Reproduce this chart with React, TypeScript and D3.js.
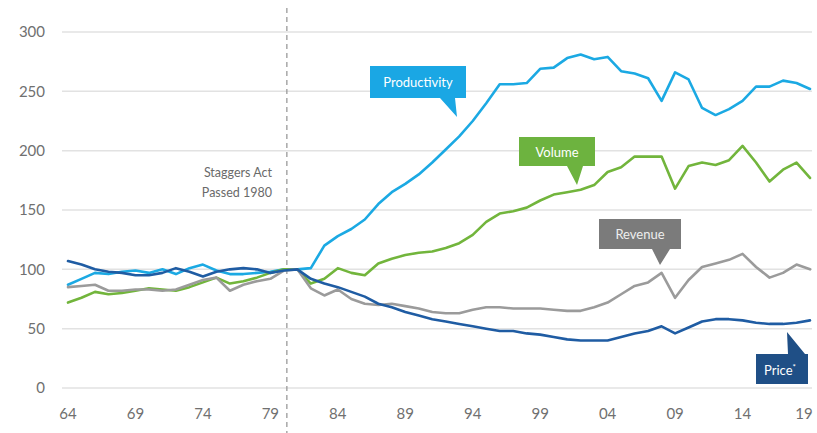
import React from "react";
import * as d3 from "d3";

const years: number[] = d3.range(1964, 2020);

const productivity: number[] = [
  87, 92, 97, 96, 98, 99, 97, 100, 96, 101, 104, 99, 96, 96, 97, 98, 100, 100,
  101, 120, 128, 134, 142, 155, 165, 172, 180, 190, 201, 212, 225, 240, 256, 256,
  257, 269, 270, 278, 281, 277, 279, 267, 265, 261, 242, 266, 260, 236, 230, 235,
  242, 254, 254, 259, 257, 252,
];
const volume: number[] = [
  72, 76, 81, 79, 80, 82, 84, 83, 82, 85, 89, 93, 88, 90, 93, 97, 100, 100,
  88, 92, 101, 97, 95, 105, 109, 112, 114, 115, 118, 122, 129, 140, 147, 149,
  152, 158, 163, 165, 167, 171, 182, 186, 195, 195, 195, 168, 187, 190, 188, 192,
  204, 190, 174, 184, 190, 177,
];
const revenue: number[] = [
  85, 86, 87, 82, 82, 83, 83, 82, 83, 87, 91, 93, 82, 87, 90, 92, 99, 100,
  84, 78, 83, 75, 71, 70, 71, 69, 67, 64, 63, 63, 66, 68, 68, 67,
  67, 67, 66, 65, 65, 68, 72, 79, 86, 89, 97, 76, 91, 102, 105, 108,
  113, 102, 93, 97, 104, 100,
];
const price: number[] = [
  107, 104, 100, 98, 97, 95, 95, 97, 101, 98, 94, 98, 100, 101, 100, 97, 99, 100,
  92, 88, 85, 81, 77, 71, 68, 64, 61, 58, 56, 54, 52, 50, 48, 48,
  46, 45, 43, 41, 40, 40, 40, 43, 46, 48, 52, 46, 51, 56, 58, 58,
  57, 55, 54, 54, 55, 57,
];

const yTicks: number[] = [0, 50, 100, 150, 200, 250, 300];
const xTickYears: number[] = [1964, 1969, 1974, 1979, 1984, 1989, 1994, 1999, 2004, 2009, 2014, 2019];
const xTickLabels: string[] = ["64", "69", "74", "79", "84", "89", "94", "99", "04", "09", "14", "19"];

const seriesNames: string[] = ["Productivity", "Volume", "Revenue", "Price"];
const seriesColors: string[] = ["#1ba9e3", "#72b53c", "#9b9b9b", "#1f5ca3"];
const seriesData: number[][] = [productivity, volume, revenue, price];

const FONT = "Lato, 'Open Sans', sans-serif";

export default function App() {
  const W = 817;
  const H = 433;
  const x = d3.scaleLinear().domain([1964, 2019]).range([68, 810]);
  const y = d3.scaleLinear().domain([0, 300]).range([388, 32]);

  const line = d3
    .line<number>()
    .x((_, i) => x(years[i]))
    .y((d) => y(d))
    .curve(d3.curveLinear);

  const callout = (
    bx: number, by: number, bw: number, bh: number,
    t1: number, t2: number, tipX: number, tipY: number, down: boolean
  ) => {
    if (down) {
      const b = by + bh;
      return `M${bx},${by}H${bx + bw}V${b}H${t2}L${tipX},${tipY}L${t1},${b}H${bx}Z`;
    }
    return `M${bx},${by}H${t1}L${tipX},${tipY}L${t2},${by}H${bx + bw}V${by + bh}H${bx}Z`;
  };

  const staggerX = x(1980) + 3;

  return (
    <svg
      width={W}
      height={H}
      style={{ position: "absolute", left: 0, top: 0, background: "#fff" }}
      fontFamily={FONT}
    >
      {yTicks.map((t) => (
        <g key={t}>
          <line x1={62} x2={812} y1={y(t)} y2={y(t)} stroke="#e2e2e2" strokeWidth={1.5} />
          <text x={45} y={y(t)} dy="0.35em" textAnchor="end" fontSize={15} fill="#707070">
            {t}
          </text>
        </g>
      ))}
      {xTickYears.map((yr, i) => (
        <text key={yr} x={Math.min(x(yr), 804)} y={414} dy="0.35em" textAnchor="middle" fontSize={15} fill="#707070">
          {xTickLabels[i]}
        </text>
      ))}
      <line x1={staggerX} x2={staggerX} y1={8} y2={433} stroke="#9a9a9a" strokeWidth={1.3} strokeDasharray="5,4" />
      <text x={272} y={173} dy="0.35em" textAnchor="end" fontSize={12.5} fill="#6a6a6a">
        Staggers Act
      </text>
      <text x={272} y={193} dy="0.35em" textAnchor="end" fontSize={12.5} fill="#6a6a6a">
        Passed 1980
      </text>

      {seriesData.map((s, i) => (
        <path
          key={seriesNames[i]}
          d={line(s) || ""}
          fill="none"
          stroke={seriesColors[i]}
          strokeWidth={2.6}
          strokeLinejoin="round"
          strokeLinecap="round"
        />
      ))}

      {/* Productivity callout */}
      <path d={callout(370, 66, 96, 32, 440, 455, 457, 117, true)} fill="#1aa7e4" />
      <text x={418} y={82} dy="0.35em" textAnchor="middle" fontSize={13} fill="#ffffff">
        Productivity
      </text>
      {/* Volume callout */}
      <path d={callout(519, 137, 76, 29, 567, 583, 577, 185, true)} fill="#6db33f" />
      <text x={557} y={152} dy="0.35em" textAnchor="middle" fontSize={13} fill="#ffffff">
        Volume
      </text>
      {/* Revenue callout */}
      <path d={callout(599, 219, 82, 30, 652, 670, 660, 265, true)} fill="#7b7b7b" />
      <text x={640} y={234} dy="0.35em" textAnchor="middle" fontSize={13} fill="#eeeeee">
        Revenue
      </text>
      {/* Price callout */}
      <path d={callout(756, 354, 52, 30, 788, 805, 787, 332, false)} fill="#1f4f86" />
      <text x={780} y={370} dy="0.35em" textAnchor="middle" fontSize={13} fill="#ffffff">
        Price<tspan dy="-5" fontSize={8}>*</tspan>
      </text>
    </svg>
  );
}
